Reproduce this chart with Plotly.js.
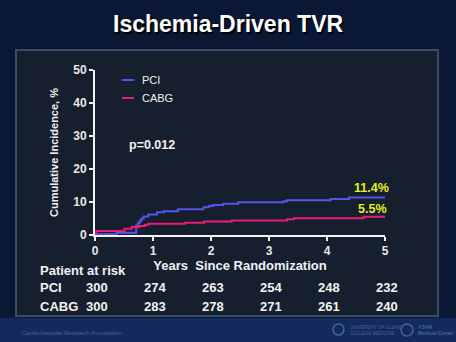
<!DOCTYPE html>
<html><head><meta charset="utf-8">
<script src="https://cdn.plot.ly/plotly-3.0.1.min.js"></script>
<style>html,body{margin:0;padding:0;background:#0a1735;}#chart{width:456px;height:342px;}</style>
</head><body><div id="chart"></div>
<script>
// ---- data ----
const pciYears      = [0, 0.37, 0.71, 0.74, 0.77, 0.80, 0.84, 0.92, 1.07, 1.19, 1.43, 1.87, 1.96, 2.03, 2.21, 2.47, 3.25, 3.31, 4.06, 4.38, 5.0];
const pciIncidence  = [0.2, 0.7, 2.9, 3.6, 4.3, 5.0, 5.6, 6.2, 6.9, 7.2, 7.8, 8.4, 8.8, 9.1, 9.5, 9.9, 10.2, 10.5, 10.9, 11.4, 11.4];
const cabgYears     = [0, 0.02, 0.51, 0.63, 0.77, 0.86, 0.92, 1.55, 1.88, 2.36, 3.31, 3.43, 4.63, 5.0];
const cabgIncidence = [0, 1.2, 1.9, 2.4, 2.7, 3.1, 3.4, 3.7, 4.1, 4.4, 4.8, 5.1, 5.5, 5.5];
const riskYears  = [0, 1, 2, 3, 4, 5];
const pciAtRisk  = [300, 274, 263, 254, 248, 232];
const cabgAtRisk = [300, 283, 278, 271, 261, 240];
const xTicks = [0, 1, 2, 3, 4, 5];
const yTicks = [0, 10, 20, 30, 40, 50];
const seriesNames = ['PCI', 'CABG'];
const pValueText = 'p=0.012';

// ---- styling ----
const FONT = 'Liberation Sans, Arial, sans-serif';
const WHITE = '#f2f2f2';
const BLUE = '#5555ee';
const PINK = '#ee1a78';
const YELLOW = '#e8ef1c';
const W = 456, H = 342;
const L = 95, R = 385, T = 70, B = 235;
const px = x => (x - L) / (R - L);
const py = y => (B - y) / (B - T);

const traces = [
  {x: pciYears, y: pciIncidence, name: seriesNames[0], type: 'scatter', mode: 'lines',
   line: {shape: 'hv', color: BLUE, width: 2}, cliponaxis: false, hoverinfo: 'skip'},
  {x: cabgYears, y: cabgIncidence, name: seriesNames[1], type: 'scatter', mode: 'lines',
   line: {shape: 'hv', color: PINK, width: 2}, cliponaxis: false, hoverinfo: 'skip'}
];

const ann = [];
// title with shadow
ann.push({xref:'paper', yref:'paper', x: px(228), y: py(24), text:'Ischemia-Driven TVR', showarrow:false,
  font:{family:FONT, size:23, color:'#ffffff', weight:'bold', shadow:'1.5px 1.5px 1px #000000'},
  xanchor:'center', yanchor:'middle'});
// legend text
ann.push({xref:'paper', yref:'paper', x: px(140), y: py(80), text: seriesNames[0], showarrow:false,
  font:{family:FONT, size:11, color:WHITE}, xanchor:'left', yanchor:'middle'});
ann.push({xref:'paper', yref:'paper', x: px(140), y: py(98), text: seriesNames[1], showarrow:false,
  font:{family:FONT, size:11, color:WHITE}, xanchor:'left', yanchor:'middle'});
// p value
ann.push({xref:'paper', yref:'paper', x: px(127), y: py(145), text: pValueText, showarrow:false,
  font:{family:FONT, size:12.5, color:WHITE, weight:'bold'}, xanchor:'left', yanchor:'middle'});
// final values
ann.push({xref:'x', yref:'y', x: pciYears[pciYears.length-1], y: pciIncidence[pciIncidence.length-1],
  text: pciIncidence[pciIncidence.length-1].toFixed(1) + '%', showarrow:false, xanchor:'right', yanchor:'middle',
  xshift: 6, yshift: 9, font:{family:FONT, size:12.5, color:YELLOW, weight:'bold'}});
ann.push({xref:'x', yref:'y', x: cabgYears[cabgYears.length-1], y: cabgIncidence[cabgIncidence.length-1],
  text: cabgIncidence[cabgIncidence.length-1].toFixed(1) + '%', showarrow:false, xanchor:'right', yanchor:'middle',
  xshift: 4, yshift: 8, font:{family:FONT, size:12.5, color:YELLOW, weight:'bold'}});
// risk table
const tfont = {family:FONT, size:13, color:WHITE, weight:'bold'};
ann.push({xref:'paper', yref:'paper', x: px(38), y: py(270), text:'Patient at risk', showarrow:false,
  font:tfont, xanchor:'left', yanchor:'middle'});
ann.push({xref:'paper', yref:'paper', x: px(38), y: py(287.5), text: seriesNames[0], showarrow:false,
  font:tfont, xanchor:'left', yanchor:'middle'});
ann.push({xref:'paper', yref:'paper', x: px(38), y: py(306), text: seriesNames[1], showarrow:false,
  font:tfont, xanchor:'left', yanchor:'middle'});
riskYears.forEach((t, i) => {
  ann.push({xref:'x', yref:'paper', x: t, y: py(287.5), text: String(pciAtRisk[i]), showarrow:false,
    xanchor:'center', yanchor:'middle', xshift: 2, font:tfont});
  ann.push({xref:'x', yref:'paper', x: t, y: py(306), text: String(cabgAtRisk[i]), showarrow:false,
    xanchor:'center', yanchor:'middle', xshift: 2, font:tfont});
});
// footer logos (faint)
const faint = '#4a6496';
ann.push({xref:'paper', yref:'paper', x: px(20), y: py(333), text:'CardioVascular Research Foundation', showarrow:false,
  xanchor:'left', yanchor:'middle', font:{family:FONT, size:6, color:faint}});
ann.push({xref:'paper', yref:'paper', x: px(348), y: py(327), text:'UNIVERSITY OF ULSAN', showarrow:false,
  xanchor:'left', yanchor:'middle', font:{family:FONT, size:4.5, color:faint}});
ann.push({xref:'paper', yref:'paper', x: px(348), y: py(333), text:'COLLEGE MEDICINE', showarrow:false,
  xanchor:'left', yanchor:'middle', font:{family:FONT, size:4.5, color:faint}});
ann.push({xref:'paper', yref:'paper', x: px(416), y: py(327), text:'ASAN', showarrow:false,
  xanchor:'left', yanchor:'middle', font:{family:FONT, size:5, color:faint, weight:'bold'}});
ann.push({xref:'paper', yref:'paper', x: px(416), y: py(333), text:'Medical Center', showarrow:false,
  xanchor:'left', yanchor:'middle', font:{family:FONT, size:5, color:faint, weight:'bold'}});

const shapes = [
  // bottom band
  {type:'rect', xref:'paper', yref:'paper', x0: px(0), x1: px(W), y0: py(318), y1: py(H),
   fillcolor:'#132a5c', line:{width:0}, layer:'below'},
  // panel
  {type:'rect', xref:'paper', yref:'paper', x0: px(16), x1: px(438), y0: py(316), y1: py(50),
   fillcolor:'#161f2d', line:{color:'#3c4c64', width:2}, layer:'below'},
  // legend swatches
  {type:'line', xref:'paper', yref:'paper', x0: px(122), x1: px(134), y0: py(80), y1: py(80),
   line:{color:BLUE, width:2}},
  {type:'line', xref:'paper', yref:'paper', x0: px(122), x1: px(134), y0: py(98), y1: py(98),
   line:{color:PINK, width:2}},
  // logo marks
  {type:'circle', xref:'paper', yref:'paper', x0: px(401), x1: px(413), y0: py(324), y1: py(336),
   line:{color:faint, width:1.5}},
  {type:'circle', xref:'paper', yref:'paper', x0: px(333), x1: px(344), y0: py(324), y1: py(335),
   line:{color:faint, width:1.5}}
];

const axisCommon = {showline:true, linecolor:WHITE, linewidth:2, ticks:'outside', ticklen:4, tickwidth:2,
  tickcolor:WHITE, showgrid:false, zeroline:false, fixedrange:true,
  tickfont:{family:FONT, size:12, color:'#e8e8e8', weight:'bold'}};

const layout = {
  width: W, height: H,
  margin: {l: L, r: W - R, t: T, b: H - B, pad: 0},
  paper_bgcolor: '#0a1735', plot_bgcolor: 'rgba(0,0,0,0)',
  showlegend: false,
  xaxis: Object.assign({}, axisCommon, {range:[0,5], tickvals: xTicks, automargin:false,
    title:{text:'Years  Since Randomization', standoff: 2, font:{family:FONT, size:13, color:WHITE, weight:'bold'}}}),
  yaxis: Object.assign({}, axisCommon, {range:[0,50], tickvals: yTicks, automargin:false,
    title:{text:'Cumulative Incidence, %', standoff: 12, font:{family:FONT, size:11, color:WHITE, weight:'bold'}}}),
  annotations: ann,
  shapes: shapes
};

Plotly.newPlot('chart', traces, layout, {staticPlot:true, displayModeBar:false});
</script></body></html>
